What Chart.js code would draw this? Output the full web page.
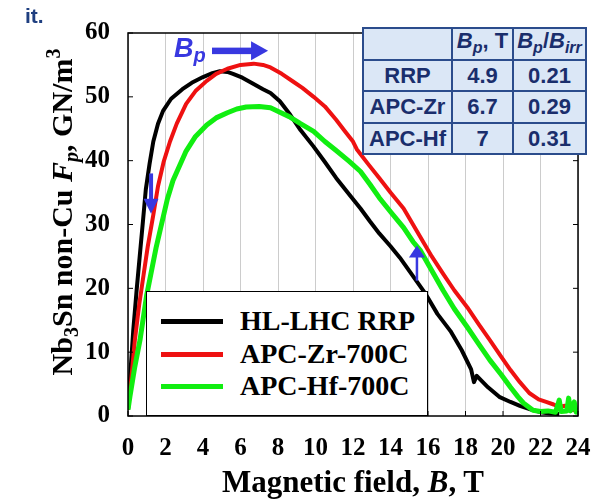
<!DOCTYPE html>
<html><head><meta charset="utf-8">
<script src="https://cdn.jsdelivr.net/npm/chart.js@4.4.1/dist/chart.umd.min.js"></script>
<style>
html,body{margin:0;padding:0;background:#fff;}
#wrap{position:relative;width:613px;height:499px;overflow:hidden;background:#fff;}
#c{position:absolute;left:0;top:0;}
.serif{font-family:"Liberation Serif","Times New Roman",serif;font-weight:bold;color:#000;}
#xtitle{position:absolute;left:128px;width:450px;top:466px;text-align:center;font-size:31px;line-height:31px;white-space:nowrap;}
#ytitle{position:absolute;width:440px;height:36px;left:-167px;top:194px;text-align:center;font-size:30px;line-height:36px;white-space:nowrap;transform:rotate(-90deg);}
#legend{position:absolute;left:146px;top:291px;width:280px;height:123px;border:1.5px solid #000;background:#fff;}
.lrow{position:absolute;left:0;height:30px;width:100%;}
.lline{position:absolute;left:14px;width:62px;height:5px;top:13px;}
.ltext{position:absolute;left:93px;top:0;font-size:28px;line-height:30px;white-space:nowrap;}
#itxt{position:absolute;left:25px;top:4px;font-family:"Liberation Sans",Arial,sans-serif;font-weight:bold;font-size:21px;color:#1f3f80;}
#bp{position:absolute;left:174px;top:35px;font-family:"Liberation Sans",Arial,sans-serif;font-weight:bold;font-style:italic;font-size:27px;line-height:27px;color:#3838e0;white-space:nowrap;}
#bp sub{font-size:20px;vertical-align:-5px;}
#tbl{position:absolute;left:362px;top:27px;border-collapse:collapse;background:#dbe7f6;font-family:"Liberation Sans",Arial,sans-serif;font-weight:bold;font-size:22px;color:#1a2e6c;}
#tbl td{border:2px solid #2b4c8c;text-align:center;padding:0;line-height:22px;}
#tbl i sub{font-size:16px;vertical-align:-5px;}
</style></head>
<body>
<div id="wrap">
<canvas id="c" width="613" height="499"></canvas>
<div id="itxt">it.</div>
<div id="xtitle" class="serif">Magnetic field, <i>B</i>, T</div>
<div id="ytitle" class="serif">Nb<sub style="font-size:20px;vertical-align:-6px">3</sub>Sn non-Cu <i>F<sub style="font-size:20px;vertical-align:-6px">p</sub></i>, GN/m<sup style="font-size:20px;vertical-align:12px">3</sup></div>
<div id="bp">B<sub>p</sub></div>
<table id="tbl">
<tr style="height:32px"><td style="width:87px"></td><td style="width:59px"><i>B<sub>p</sub></i>, T</td><td style="width:71px"><i>B<sub>p</sub></i>/<i>B<sub>irr</sub></i></td></tr>
<tr style="height:31px"><td>RRP</td><td>4.9</td><td>0.21</td></tr>
<tr style="height:32px"><td>APC-Zr</td><td>6.7</td><td>0.29</td></tr>
<tr style="height:31px"><td>APC-Hf</td><td>7</td><td>0.31</td></tr>
</table>
<div id="legend" class="serif"></div>
</div>
<script>
// ---- data ----
const seriesLabels = ['HL-LHC RRP', 'APC-Zr-700C', 'APC-Hf-700C'];
const seriesColors = ['#000000', '#ee1111', '#11ee11'];

const rrpB = [0,0.1,0.28,0.46,0.64,0.8,0.95,1.15,1.35,1.6,1.87,2.3,2.9,3.4,4.0,4.5,4.9,5.3,5.6,6.1,6.7,7.2,7.6,8.1,8.6,9.2,9.9,10.5,11.1,11.8,12.4,12.9,13.4,14.0,14.5,15.2,15.9,16.5,17.2,17.8,18.3,18.45,18.6,19.2,19.8,20.4,20.9,21.5,22.0,22.5,23.0];
const rrpF = [1,5.5,13.4,19.7,25.5,30.6,35.5,39.5,43,45.8,47.8,49.7,51.2,52.2,53.1,53.7,54,53.9,53.6,53,52,51.2,50.6,49.3,47.4,44.8,42.2,39.8,37.3,34.7,32.5,30.5,28.6,26.6,24.8,21.9,19.0,16,13.3,10.3,7.3,5.3,6.3,4.5,3,2.2,1.6,1.0,0.6,0.4,0.3];

const zrB = [0,0.15,0.37,0.6,0.8,1.05,1.35,1.6,1.9,2.24,2.6,3.1,3.6,4.2,4.7,5.3,6.0,6.7,7.2,7.6,8.2,8.8,9.3,9.9,10.5,11.1,11.6,12.0,12.2,12.8,13.4,14.0,14.7,15.2,15.7,16.2,16.8,17.4,18.1,18.7,19.3,19.9,20.4,20.9,21.4,21.9,22.3,22.7,23.0,23.3,23.6,24.0];
const zrF = [1,5,12,17.5,21.5,26.5,31.5,36,39.8,43,45.8,48.9,50.9,52.5,53.6,54.4,55,55.2,55,54.6,53.6,52.4,51.4,50,48.5,46.4,44.5,43,41.8,39.5,37.3,35,32.5,30,27.5,25,22.3,19.7,17,14.4,11.9,9.3,7.2,5.3,3.6,2.6,2.2,1.8,1.4,1.6,1.0,0.8];

const hfB = [0,0.1,0.35,0.64,1.0,1.5,2.1,2.4,3.1,3.6,4.2,4.7,5.3,5.8,6.3,7.0,7.6,8.1,8.6,9.2,9.9,10.5,11.1,11.8,12.4,12.9,13.4,14.0,14.7,15.2,15.6,16.2,16.8,17.4,18.1,18.7,19.3,19.9,20.4,20.8,21.1,21.6,22.0,22.4,22.8,23.0,23.1,23.4,23.5,23.6,23.8,23.9,24.0];
const hfF = [1,3,7.5,11.9,19,26.4,34,36.9,41.5,43.8,45.6,46.7,47.5,48.1,48.4,48.5,48.3,47.6,46.9,45.8,44.6,43,41.6,39.9,38.3,36.3,34.2,32,29.5,27.3,25.9,22.8,19.7,16.8,13.9,11.3,8.75,6.5,4.5,3,2,0.9,0.7,0.8,0.6,2.5,0.7,0.8,2.8,0.8,2.2,0.6,0.8];

const xTicks = [0,2,4,6,8,10,12,14,16,18,20,22,24];
const yTicks = [0,10,20,30,40,50,60];

// annotation arrows (in data units)
const arrows = [
  {from:[4.48,57.2], to:[7.47,57.2], shaft:6.5, headLen:17, headW:19},
  {from:[1.23,38.0], to:[1.23,31.7], shaft:4, headLen:15, headW:15},
  {from:[15.41,21.2], to:[15.41,26.7], shaft:2.5, headLen:12, headW:16}
];
const arrowColor = '#3838e0';

function pts(bs, fs){ return bs.map((b,i)=>({x:b, y:fs[i]})); }

const datasets = [
  {label:seriesLabels[0], data:pts(rrpB,rrpF), borderColor:seriesColors[0], borderWidth:4, order:2},
  {label:seriesLabels[1], data:pts(zrB,zrF), borderColor:seriesColors[1], borderWidth:4, order:1},
  {label:seriesLabels[2], data:pts(hfB,hfF), borderColor:seriesColors[2], borderWidth:5, order:0}
].map(d=>Object.assign(d,{pointRadius:0, tension:0, fill:false, borderJoinStyle:'round'}));

const framePlugin = {
  id:'frame',
  afterDraw(chart){
    const {ctx, chartArea:a, scales:{x,y}} = chart;
    const line=(x1,y1,x2,y2)=>{ctx.beginPath();ctx.moveTo(x1,y1);ctx.lineTo(x2,y2);ctx.stroke();};
    ctx.save();
    ctx.strokeStyle='#000';
    ctx.lineWidth=1;
    y.ticks.forEach(t=>{const py=y.getPixelForValue(t.value); line(a.left,py,a.left+5,py); line(a.right-5,py,a.right,py);});
    x.ticks.forEach(t=>{const px=x.getPixelForValue(t.value); line(px,a.bottom,px,a.bottom-5);});
    ctx.lineWidth=1.5;
    ctx.strokeRect(a.left,a.top,a.right-a.left,a.bottom-a.top);
    // arrows
    ctx.fillStyle=arrowColor; ctx.strokeStyle=arrowColor;
    arrows.forEach(ar=>{
      const x1=x.getPixelForValue(ar.from[0]), y1=y.getPixelForValue(ar.from[1]);
      const x2=x.getPixelForValue(ar.to[0]), y2=y.getPixelForValue(ar.to[1]);
      const ang=Math.atan2(y2-y1,x2-x1);
      const len=Math.hypot(x2-x1,y2-y1);
      ctx.save();
      ctx.translate(x1,y1); ctx.rotate(ang);
      ctx.fillRect(0,-ar.shaft/2,len-ar.headLen+1,ar.shaft);
      ctx.beginPath();
      ctx.moveTo(len,0); ctx.lineTo(len-ar.headLen,-ar.headW/2); ctx.lineTo(len-ar.headLen,ar.headW/2); ctx.closePath();
      ctx.fill();
      ctx.restore();
    });
    ctx.restore();
  }
};

const tickFont = {family:'"Liberation Serif","Times New Roman",serif', size:25, weight:'bold'};

const chart = new Chart(document.getElementById('c'), {
  type:'line',
  data:{datasets},
  options:{
    responsive:false, animation:false, devicePixelRatio:1,
    layout:{padding:{top:32,right:35,left:0,bottom:0}},
    plugins:{legend:{display:false}, tooltip:{enabled:false}},
    scales:{
      x:{type:'linear', min:0, max:24,
        afterFit(s){s.height=83;},
        afterBuildTicks(s){s.ticks = xTicks.map(v=>({value:v}));},
        ticks:{font:tickFont, color:'#000', padding:18, maxRotation:0, autoSkip:false},
        grid:{color:'#cccccc', lineWidth:1, drawTicks:false},
        border:{display:false}},
      y:{type:'linear', min:0, max:60,
        afterFit(s){s.width=128;},
        afterBuildTicks(s){s.ticks = yTicks.map(v=>({value:v}));},
        ticks:{font:tickFont, color:'#000', padding:18},
        grid:{display:false, drawTicks:false},
        border:{display:false}}
    }
  },
  plugins:[framePlugin]
});

// HTML legend built from the chart datasets
const lg = document.getElementById('legend');
const rowTops = [14, 47, 79];
chart.data.datasets.forEach((d,i)=>{
  const r=document.createElement('div'); r.className='lrow'; r.style.top=rowTops[i]+'px';
  const l=document.createElement('div'); l.className='lline'; l.style.background=d.borderColor;
  const t=document.createElement('div'); t.className='ltext'; t.textContent=d.label;
  r.appendChild(l); r.appendChild(t); lg.appendChild(r);
});
</script>
</body></html>
